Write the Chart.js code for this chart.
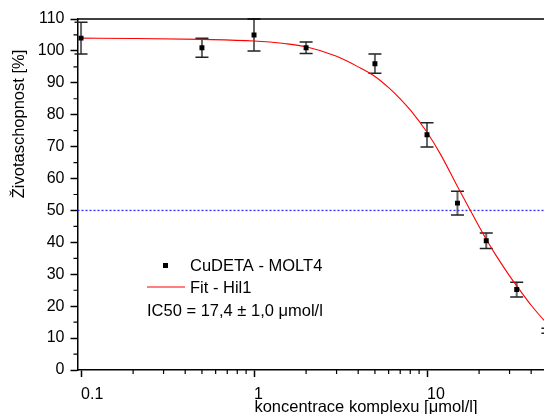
<!DOCTYPE html>
<html>
<head>
<meta charset="utf-8">
<script src="https://cdn.jsdelivr.net/npm/chart.js@4/dist/chart.umd.min.js"></script>
<style>
  html, body { margin: 0; padding: 0; background: #fff; }
  #wrap { width: 544px; height: 414px; overflow: hidden; }
  canvas { display: block; }
</style>
</head>
<body>
<div id="wrap"><canvas id="chart" width="610" height="414"></canvas></div>
<script>
// measured points (concentration in umol/l, viability in %)
const concentration = [0.1, 0.5, 1, 2, 5, 10, 15, 22, 33, 50];
const viability = [104, 101, 105, 101, 96, 73.7, 52.3, 40.5, 25.2, 12.3];
const viabilityErr = [5, 3, 5, 1.8, 3, 3.8, 3.7, 2.4, 2.3, 0.8];

// Hill fit curve
const fitX = [0.1, 0.2, 0.5, 1, 1.5, 2, 3, 4, 5, 6, 7, 8, 10, 12, 15, 17.4, 20, 22, 25, 30, 35, 40, 45, 50];
const fitY = [104, 103.9, 103.6, 103.1, 102.3, 101.3, 98.3, 95, 92, 88.5, 85, 81.5, 74.5, 67.5, 57.5, 51, 45, 41, 36, 29.5, 24.5, 20.3, 17, 14.3];

// 50 % guide line
const halfX = [0.0954, 100];
const halfY = [50, 50];

const xTicks = [0.1, 1, 10];
const xMinorTicks = [0.2, 0.3, 0.4, 0.5, 0.6, 0.7, 0.8, 0.9, 2, 3, 4, 5, 6, 7, 8, 9, 20, 30, 40, 50, 60, 70, 80, 90];
const yMinorTicks = [5, 15, 25, 35, 45, 55, 65, 75, 85, 95, 105];

const FONT = "'Liberation Sans', Arial, sans-serif";
Chart.defaults.font.family = FONT;
Chart.defaults.color = "#000";

const toPoints = (xs, ys) => xs.map((x, i) => ({ x: x, y: ys[i] }));

const errorBars = {
  id: "errorBars",
  beforeDatasetsDraw(chart) {
    const { ctx, scales } = chart;
    ctx.save();
    concentration.forEach((c, i) => {
      const px = scales.x.getPixelForValue(c);
      const top = scales.y.getPixelForValue(viability[i] + viabilityErr[i]);
      const bot = scales.y.getPixelForValue(viability[i] - viabilityErr[i]);
      ctx.strokeStyle = "#666";
      ctx.lineWidth = 2;
      ctx.beginPath();
      ctx.moveTo(px, top);
      ctx.lineTo(px, bot);
      ctx.stroke();
      ctx.strokeStyle = "#222";
      ctx.lineWidth = 1.5;
      ctx.beginPath();
      ctx.moveTo(px - 6.5, top);
      ctx.lineTo(px + 6.5, top);
      ctx.moveTo(px - 6.5, bot);
      ctx.lineTo(px + 6.5, bot);
      ctx.stroke();
    });
    ctx.restore();
  }
};

const frame = {
  id: "frame",
  afterDraw(chart) {
    const { ctx, chartArea, scales } = chart;
    ctx.save();
    ctx.strokeStyle = "#000";
    ctx.lineWidth = 1.5;
    ctx.beginPath();
    ctx.moveTo(chartArea.left, chartArea.top);
    ctx.lineTo(chartArea.right, chartArea.top);
    ctx.stroke();

    // minor ticks
    ctx.lineWidth = 1.2;
    ctx.beginPath();
    xMinorTicks.forEach(v => {
      const px = scales.x.getPixelForValue(v);
      ctx.moveTo(px, chartArea.bottom);
      ctx.lineTo(px, chartArea.bottom + 4);
    });
    yMinorTicks.forEach(v => {
      const py = scales.y.getPixelForValue(v);
      ctx.moveTo(chartArea.left, py);
      ctx.lineTo(chartArea.left - 4, py);
    });
    ctx.stroke();

    // axis titles
    ctx.fillStyle = "#000";
    ctx.font = "16.5px " + FONT;
    ctx.textAlign = "center";
    ctx.textBaseline = "alphabetic";
    ctx.fillText("koncentrace komplexu [\u03bcmol/l]", 366, 412);
    ctx.translate(24, 124);
    ctx.rotate(-Math.PI / 2);
    ctx.fillText("\u017divotaschopnost [%]", 0, 0);
    ctx.restore();
  }
};

const innerLegend = {
  id: "innerLegend",
  afterDraw(chart) {
    const { ctx } = chart;
    const ds = chart.data.datasets;
    ctx.save();
    ctx.fillStyle = ds[0].backgroundColor;
    ctx.fillRect(163, 263, 5, 5);
    ctx.strokeStyle = ds[1].borderColor;
    ctx.lineWidth = 1.2;
    ctx.beginPath();
    ctx.moveTo(147, 287);
    ctx.lineTo(185, 287);
    ctx.stroke();
    ctx.fillStyle = "#000";
    ctx.font = "16.5px " + FONT;
    ctx.textBaseline = "alphabetic";
    ctx.textAlign = "left";
    ctx.fillText(ds[0].label, 190, 271);
    ctx.fillText(ds[1].label, 190, 292.5);
    ctx.fillText("IC50 = 17,4 \u00b1 1,0 \u03bcmol/l", 147, 316);
    ctx.restore();
  }
};

new Chart(document.getElementById("chart"), {
  type: "scatter",
  data: {
    datasets: [
      {
        label: "CuDETA - MOLT4",
        data: toPoints(concentration, viability),
        pointStyle: "rect",
        pointRadius: 3.5,
        borderWidth: 0,
        backgroundColor: "#000",
        borderColor: "#000",
        order: 1
      },
      {
        label: "Fit - Hil1",
        type: "line",
        data: toPoints(fitX, fitY),
        borderColor: "#ff0000",
        borderWidth: 1.1,
        pointRadius: 0,
        cubicInterpolationMode: "monotone",
        fill: false,
        order: 2
      },
      {
        label: "50 %",
        type: "line",
        data: toPoints(halfX, halfY),
        borderColor: "#2a2aff",
        borderWidth: 1.3,
        borderDash: [2, 2],
        pointRadius: 0,
        fill: false,
        order: 3
      }
    ]
  },
  options: {
    responsive: false,
    animation: false,
    devicePixelRatio: 1,
    layout: { padding: { top: 19, right: 10, left: 0, bottom: 0 } },
    plugins: {
      legend: { display: false },
      tooltip: { enabled: false }
    },
    scales: {
      x: {
        type: "logarithmic",
        min: 0.0954,
        max: 100,
        afterBuildTicks: s => { s.ticks = xTicks.map(v => ({ value: v })); },
        afterFit: s => { s.height = 44; },
        ticks: {
          align: "start",
          autoSkip: false,
          maxRotation: 0,
          padding: 8,
          font: { size: 16 },
          callback: v => String(v)
        },
        grid: { drawOnChartArea: false, tickLength: 7, tickColor: "#000", tickWidth: 1.5 },
        border: { color: "#000", width: 1.5 }
      },
      y: {
        min: 0,
        max: 110,
        afterFit: s => { s.width = 77.5; },
        ticks: { stepSize: 10, padding: 6, font: { size: 16 } },
        grid: { drawOnChartArea: false, tickLength: 7, tickColor: "#000", tickWidth: 1.5 },
        border: { color: "#000", width: 1.5 }
      }
    }
  },
  plugins: [errorBars, frame, innerLegend]
});
</script>
</body>
</html>
